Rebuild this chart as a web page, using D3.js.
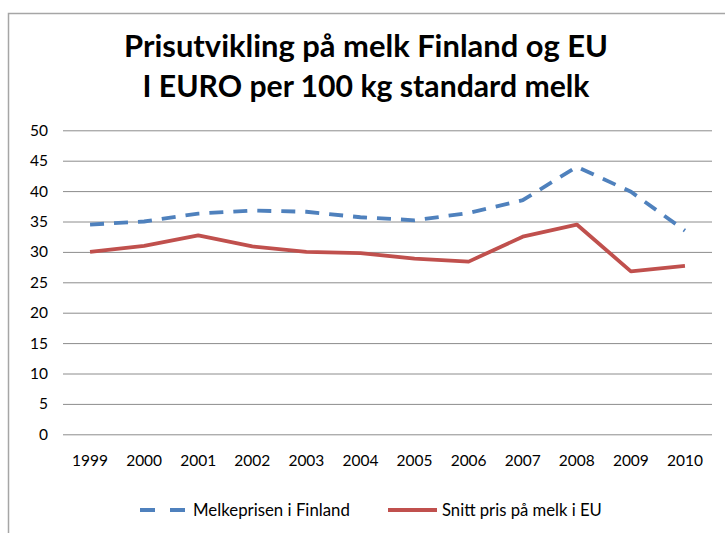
<!DOCTYPE html>
<html>
<head>
<meta charset="utf-8">
<script src="https://cdn.jsdelivr.net/npm/d3@7"></script>
<style>
  html, body { margin: 0; padding: 0; background: #fff; }
  svg { display: block; }
</style>
</head>
<body>
<svg id="chart" width="725" height="533"></svg>
<script>
// ---- data ----
const years = ["1999","2000","2001","2002","2003","2004","2005","2006","2007","2008","2009","2010"];
const finland = [34.5, 35.0, 36.3, 36.8, 36.6, 35.7, 35.2, 36.4, 38.5, 44.0, 39.9, 33.5];
const eu = [30.0, 31.0, 32.7, 30.9, 30.0, 29.8, 28.9, 28.4, 32.5, 34.5, 26.8, 27.7];
const yTicks = [0, 5, 10, 15, 20, 25, 30, 35, 40, 45, 50];
const seriesNames = ["Melkeprisen i Finland", "Snitt pris på melk i EU"];
const titleLines = ["Prisutvikling på melk Finland og EU", "I EURO per 100 kg standard melk"];

const FONT = "Lato, 'Open Sans', sans-serif";
const svg = d3.select("#chart");

function fitText(el, base, target) {
  const w = el.node().getComputedTextLength();
  el.attr("font-size", base * target / w);
}

// frame
svg.append("rect")
  .attr("x", 8.5).attr("y", 13.5)
  .attr("width", 740).attr("height", 540)
  .attr("fill", "#fff").attr("stroke", "#a6a6a6").attr("stroke-width", 1.5);

// title
const title = svg.append("g");
const titleTargets = [{y: 57, w: 484}, {y: 97, w: 447}];
titleLines.forEach((t, i) => {
  const el = title.append("text")
    .attr("x", 366).attr("y", titleTargets[i].y)
    .attr("text-anchor", "middle")
    .attr("font-family", FONT).attr("font-weight", "bold")
    .attr("font-size", 26).attr("fill", "#000")
    .text(t);
  fitText(el, 26, titleTargets[i].w);
});

// scales
const x = d3.scaleBand().domain(years).range([63, 712]);
const y = d3.scaleLinear().domain([0, 50]).range([434.3, 130.3]);

// gridlines
svg.append("g")
  .attr("transform", "translate(63,0)")
  .call(d3.axisLeft(y).tickValues(yTicks).tickSize(-649).tickFormat(""))
  .call(g => g.select(".domain").remove())
  .call(g => g.selectAll("line").attr("stroke", "#8c8c8c").attr("stroke-width", 1));

// y labels
svg.append("g")
  .attr("transform", "translate(48,0)")
  .call(d3.axisLeft(y).tickValues(yTicks).tickSize(0).tickPadding(0))
  .call(g => g.select(".domain").remove())
  .call(g => g.selectAll("text").attr("font-family", FONT).attr("font-size", 15.5).attr("fill", "#000"));

// x labels
svg.append("g")
  .attr("transform", "translate(0,455)")
  .call(d3.axisBottom(x).tickSize(0).tickPadding(0))
  .call(g => g.select(".domain").remove())
  .call(g => g.selectAll("text").attr("font-family", FONT).attr("font-size", 15.5).attr("fill", "#000"));

// lines
const line = d3.line().x((d, i) => x(years[i]) + x.bandwidth() / 2).y(d => y(d));
svg.append("path").datum(eu)
  .attr("d", line).attr("fill", "none")
  .attr("stroke", "#c0504d").attr("stroke-width", 3.8).attr("stroke-linejoin", "round");
svg.append("path").datum(finland)
  .attr("d", line).attr("fill", "none")
  .attr("stroke", "#4f81bd").attr("stroke-width", 3.8)
  .attr("stroke-dasharray", "14,10").attr("stroke-linecap", "butt");

// legend
const leg = svg.append("g");
leg.append("line").attr("x1", 140).attr("x2", 186).attr("y1", 510).attr("y2", 510)
  .attr("stroke", "#4f81bd").attr("stroke-width", 3.8).attr("stroke-dasharray", "15,15");
const t1 = leg.append("text").attr("x", 193).attr("y", 515.5)
  .attr("font-family", FONT).attr("font-size", 15.5).attr("fill", "#000").text(seriesNames[0]);
fitText(t1, 15.5, 157);
leg.append("line").attr("x1", 388).attr("x2", 437).attr("y1", 510).attr("y2", 510)
  .attr("stroke", "#c0504d").attr("stroke-width", 3.8);
const t2 = leg.append("text").attr("x", 442).attr("y", 515.5)
  .attr("font-family", FONT).attr("font-size", 15.5).attr("fill", "#000").text(seriesNames[1]);
fitText(t2, 15.5, 160);
</script>
</body>
</html>
